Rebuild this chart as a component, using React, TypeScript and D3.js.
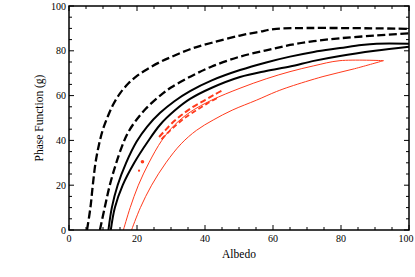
import React from 'react'
import * as d3 from 'd3'

type Pt = [number, number]

// albedo, phase function (g)
const dashedOuter: Pt[] = [
  [5.3, 0], [6.3, 10], [7, 20], [7.8, 30], [8.8, 38], [10, 45], [11.5, 51], [13, 56],
  [15, 61], [17.5, 65.5], [20, 68.8], [23, 71.8], [26.8, 75], [30, 77.2], [35.6, 80.7],
  [42, 83.6], [50.3, 86.8], [56, 88.5], [61, 89.8], [100, 89.8],
]
const dashedInner: Pt[] = [
  [9.1, 0], [10.5, 10], [12, 20], [13.6, 28.5], [15.5, 37], [17.2, 43], [19.5, 48.5],
  [22.5, 54], [26.8, 60], [30, 63.6], [35.6, 68.4], [42, 73], [50.3, 77.4], [58, 80.2],
  [65, 82.6], [72, 84.3], [79.7, 85.6], [90, 86.8], [100, 87.8],
]
const solidUpper: Pt[] = [
  [11.6, 0], [12.6, 10], [14.3, 20], [16.8, 30], [19.9, 39.5], [23, 46.2], [26.8, 52.3],
  [31, 57.5], [35.6, 62], [42, 66.8], [50.3, 71.4], [58, 74.8], [65, 77.4], [72, 79.5],
  [79.7, 81.2], [86, 82.6], [90.5, 83.2], [100, 83.2],
]
const solidLower: Pt[] = [
  [12.3, 0], [13.5, 10], [15.8, 20], [19.2, 30], [23.2, 39.5], [26.8, 47], [31, 53.2],
  [35.6, 58.5], [42, 63.5], [50.3, 68.3], [58, 71], [65, 73], [72, 75.5], [79.7, 77.7],
  [90, 80], [100, 81.8],
]
const redUpper: Pt[] = [
  [16, 0], [18, 10], [20.4, 20], [23.5, 30], [27.3, 40], [31, 46.8], [35.6, 52.6], [42, 58],
  [50.3, 63.3], [58, 67.5], [65, 70.7], [72, 73.3], [79.7, 75.6], [92.5, 75.6],
]
const redLower: Pt[] = [
  [18.4, 0], [21, 10], [24.3, 20], [28.5, 30], [33, 38.5], [37.5, 44.5], [42.4, 49.1],
  [48, 53.5], [55.2, 58], [61, 61.8], [65, 64], [74.7, 68.5], [84, 72], [92.5, 75.6],
]
const redDashA: Pt[] = [
  [26.5, 41.5], [28, 44], [30.7, 48.3], [33, 51.2], [36, 54.5], [40, 58], [43, 60.6], [45.5, 62.6],
]
const redDashB: Pt[] = [
  [27.2, 40.5], [29, 43.3], [31.5, 46.8], [34, 50], [37, 53], [40.5, 56.3], [43.5, 58.8],
]
const redDots: [number, number, number][] = [
  [21.6, 30.5, 1.8], [20.6, 26.5, 1.1],
]

const xTicks = [0, 20, 40, 60, 80, 100]
const yTicks = [0, 20, 40, 60, 80, 100]
const minor = d3.range(0, 101, 5)

export default function App() {
  const W = 415
  const H = 277
  const left = 69
  const right = 409
  const top = 6
  const bottom = 230

  const x = d3.scaleLinear().domain([0, 100]).range([left, right])
  const y = d3.scaleLinear().domain([0, 100]).range([bottom, top])

  const line = d3
    .line<Pt>()
    .x((d) => x(d[0]))
    .y((d) => y(d[1]))
    .curve(d3.curveCatmullRom.alpha(0.5))

  const font = 'Liberation Serif'
  const red = '#ff3a1c'

  return (
    <svg
      width={W}
      height={H}
      style={{ position: 'fixed', left: 0, top: 0, background: '#fff' }}
    >
      <defs>
        <clipPath id="plot">
          <rect x={left} y={top} width={right - left} height={bottom - top} />
        </clipPath>
      </defs>

      <g clipPath="url(#plot)" fill="none">
        <path d={line(dashedOuter)!} stroke="#000" strokeWidth={2.3} strokeDasharray="8,3.5" />
        <path d={line(dashedInner)!} stroke="#000" strokeWidth={2.3} strokeDasharray="8,3.5" />
        <path d={line(solidUpper)!} stroke="#000" strokeWidth={2} />
        <path d={line(solidLower)!} stroke="#000" strokeWidth={2} />
        <path d={line(redUpper)!} stroke={red} strokeWidth={1} />
        <path d={line(redLower)!} stroke={red} strokeWidth={1} />
        <path d={line(redDashA)!} stroke={red} strokeWidth={2} strokeDasharray="6,3" />
        <path d={line(redDashB)!} stroke={red} strokeWidth={1.8} strokeDasharray="5,3" />
        {redDots.map((d, i) => (
          <circle key={i} cx={x(d[0])} cy={y(d[1])} r={d[2]} fill={red} />
        ))}
      </g>

      {/* frame */}
      <rect
        x={left}
        y={top}
        width={right - left}
        height={bottom - top}
        fill="none"
        stroke="#000"
        strokeWidth={1.5}
      />

      {/* ticks, inward on all sides */}
      <g stroke="#000" strokeWidth={1}>
        {minor.map((v) => {
          const len = v % 20 === 0 ? 5 : 3
          return (
            <g key={v}>
              <line x1={x(v)} x2={x(v)} y1={bottom} y2={bottom - len} />
              <line x1={x(v)} x2={x(v)} y1={top} y2={top + len} />
              <line x1={left} x2={left + len} y1={y(v)} y2={y(v)} />
              <line x1={right} x2={right - len} y1={y(v)} y2={y(v)} />
            </g>
          )
        })}
      </g>

      <g fontFamily={font} fontSize={10} fill="#000">
        {xTicks.map((v, i) => {
          const last = i === xTicks.length - 1
          return (
            <text
              key={v}
              x={last ? W - 1.5 : x(v)}
              y={bottom + 12}
              textAnchor={last ? 'end' : 'middle'}
            >
              {v}
            </text>
          )
        })}
        {yTicks.map((v) => (
          <text key={v} x={left - 3} y={y(v) + 3.5} textAnchor="end">
            {v}
          </text>
        ))}
      </g>

      <text
        x={(left + right) / 2}
        y={258}
        textAnchor="middle"
        fontFamily={font}
        fontSize={11.5}
      >
        Albedo
      </text>
      <text
        transform={`translate(43,${(top + bottom) / 2}) rotate(-90)`}
        textAnchor="middle"
        fontFamily={font}
        fontSize={11.5}
      >
        Phase Function (g)
      </text>
    </svg>
  )
}
